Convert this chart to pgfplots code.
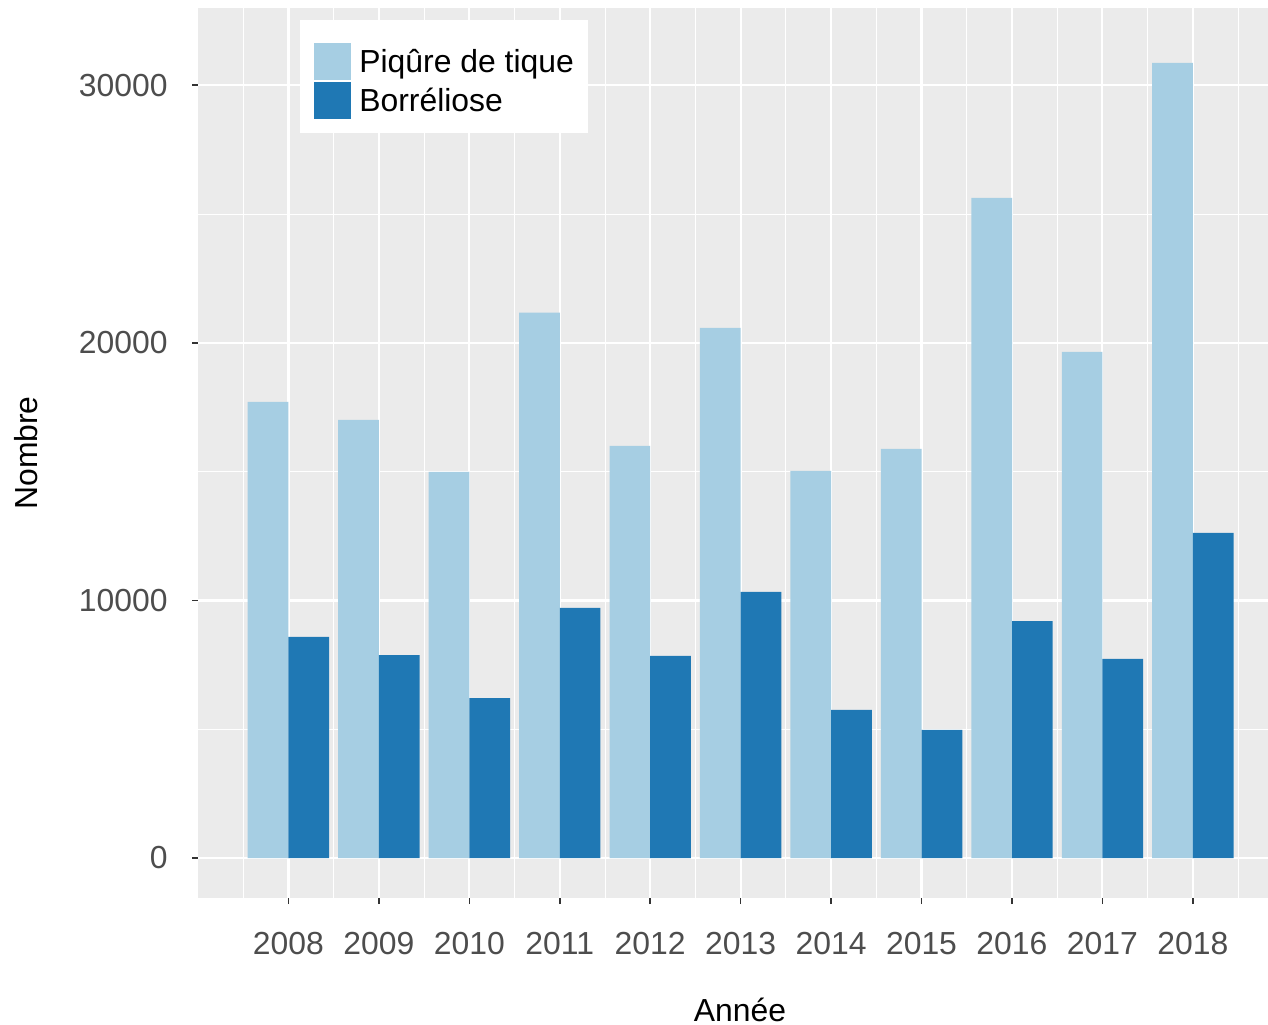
\documentclass[border=0pt]{standalone}
\usepackage{pgfplots}
\pgfplotsset{compat=1.18}
\usepackage{fontspec}
\setmainfont{Liberation Sans}

\definecolor{lightbar}{HTML}{A6CEE3}
\definecolor{darkbar}{HTML}{1F78B4}
\definecolor{panel}{HTML}{EBEBEB}
\definecolor{ticktext}{HTML}{4D4D4D}
\definecolor{tickmark}{HTML}{333333}

\begin{document}
\begin{tikzpicture}
\begin{axis}[
  scale only axis,
  width=535bp, height=445bp,
  xmin=2007, xmax=2018.83,
  ymin=-1553, ymax=33000,
  ybar,
  axis background/.style={fill=panel},
  axis line style={draw=none},
  grid=both,
  major grid style={white, line width=1.1bp},
  minor grid style={white, line width=0.5bp},
  xtick={2008,...,2018},
  xticklabels={2008,2009,2010,2011,2012,2013,2014,2015,2016,2017,2018},
  minor xtick={2007.5,2008.5,...,2018.5},
  ytick={0,10000,20000,30000},
  yticklabels={0,10000,20000,30000},
  minor ytick={5000,15000,25000},
  tick align=outside,
  xtick pos=left, ytick pos=left,
  major tick length=3bp,
  minor tick length=0pt,
  every tick/.style={tickmark, line width=0.8bp},
  xticklabel style={font=\fontsize{16}{19}\selectfont, text=ticktext, inner sep=0pt, anchor=north, yshift=-14bp},
  yticklabel style={font=\fontsize{16}{19}\selectfont, text=ticktext, inner sep=0pt, anchor=east, xshift=-12bp},
  xlabel={Année},
  ylabel={Nombre},
  every axis x label/.style={at={(axis description cs:0.5065,0)}, anchor=base, yshift=-61.5bp, font=\fontsize{16}{19}\selectfont},
  every axis y label/.style={at={(axis description cs:0,0.5)}, anchor=center, xshift=-86bp, rotate=90, font=\fontsize{16}{19}\selectfont},
  legend image code/.code={\fill[#1] (0bp,-9.25bp) rectangle (18.5bp,9.25bp);},
  legend style={name=leg, at={(axis description cs:0.0953,0.9764)}, anchor=north west, draw=none, fill=white,
    font=\fontsize{16}{19}\selectfont, inner xsep=7bp, inner ysep=7bp, row sep=1bp,
    nodes={inner xsep=0pt}, cells={anchor=west},
    /tikz/every odd column/.style={column sep=4bp}},
]
% Piqûre de tique
\addplot[fill=lightbar, draw=none, bar width=0.45, bar shift=-0.225] coordinates {
  (2008,17710) (2009,17010) (2010,14990) (2011,21170) (2012,16000) (2013,20580)
  (2014,15030) (2015,15880) (2016,25630) (2017,19650) (2018,30870)
};
% Borréliose
\addplot[fill=darkbar, draw=none, bar width=0.45, bar shift=0.225] coordinates {
  (2008,8580) (2009,7880) (2010,6210) (2011,9710) (2012,7850) (2013,10330)
  (2014,5750) (2015,4970) (2016,9200) (2017,7730) (2018,12620)
};
\legend{Piqûre de tique, Borréliose}
\end{axis}
% extra white space above the legend keys, as in the reference box
\fill[white] (leg.north west) rectangle ([yshift=4.5bp]leg.north east);
\pgfresetboundingbox
\path[use as bounding box] (-99bp,-63.5bp) rectangle (535bp,449bp);
\end{tikzpicture}
\end{document}
